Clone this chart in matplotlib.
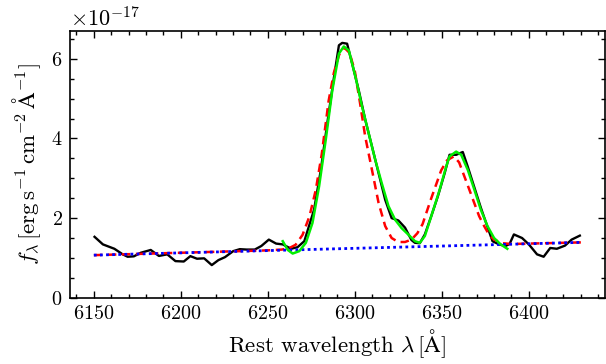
import numpy as np
import matplotlib
matplotlib.use("Agg")
import matplotlib.pyplot as plt
from matplotlib.ticker import MultipleLocator

plt.rcParams['font.family'] = 'serif'
plt.rcParams['font.serif'] = ['cmr10', 'DejaVu Serif']
plt.rcParams['mathtext.fontset'] = 'cm'
plt.rcParams['axes.formatter.use_mathtext'] = True
plt.rcParams['axes.unicode_minus'] = False

SCALE = 1e-17

# observed spectrum (black)
obs_wave = [6150.4, 6155.2, 6161.8, 6166.6, 6169.4, 6173.0, 6177.0, 6182.7, 6187.4, 6192.2,
            6196.9, 6201.7, 6205.5, 6209.3, 6213.4, 6217.8, 6221.6, 6225.4, 6230.1, 6233.9,
            6237.8, 6242.5, 6246.3, 6250.6, 6254.8, 6258.6, 6263.4, 6267.1, 6271.0, 6276.6,
            6280.5, 6284.2, 6288.1, 6290.9, 6292.8, 6295.6, 6298.5, 6302.3, 6306.1, 6309.9,
            6313.7, 6317.5, 6321.2, 6325.1, 6328.9, 6332.6, 6334.6, 6337.4, 6340.3, 6344.0,
            6347.8, 6351.7, 6354.5, 6358.3, 6362.1, 6364.9, 6368.7, 6372.5, 6376.3, 6379.2,
            6383.0, 6386.7, 6389.0, 6391.5, 6396.2, 6400.1, 6404.8, 6408.6, 6412.4, 6416.2,
            6420.9, 6424.7, 6429.4]
obs_flux = [1.53, 1.34, 1.23, 1.09, 1.03, 1.04, 1.13, 1.20, 1.05, 1.09,
            0.92, 0.91, 1.045, 0.98, 0.99, 0.82, 0.945, 1.02, 1.17, 1.22,
            1.21, 1.21, 1.30, 1.46, 1.36, 1.34, 1.23, 1.27, 1.42, 2.21,
            3.21, 4.38, 5.55, 6.34, 6.40, 6.38, 5.88, 5.21, 4.46, 3.80,
            3.13, 2.46, 2.00, 1.94, 1.76, 1.45, 1.38, 1.37, 1.59, 2.05,
            2.55, 3.13, 3.59, 3.59, 3.66, 3.30, 2.78, 2.26, 1.78, 1.42,
            1.34, 1.30, 1.35, 1.59, 1.50, 1.34, 1.09, 1.03, 1.25, 1.23,
            1.31, 1.46, 1.56]

# model (red dashed)
model_wave = [6150, 6200, 6250, 6258, 6262, 6266, 6270, 6274, 6277.6, 6281,
              6285, 6288, 6291, 6294, 6297, 6300, 6303, 6306, 6309.9, 6313.7,
              6317.5, 6321.2, 6325, 6328.9, 6332.6, 6336, 6339, 6344, 6349.7, 6353,
              6357, 6360, 6363, 6366, 6368.7, 6371.5, 6374.4, 6377, 6380, 6385,
              6390, 6430]
model_flux = [1.07, 1.13, 1.19, 1.21, 1.24, 1.33, 1.58, 2.05, 2.71, 3.6,
              4.95, 5.65, 6.1, 6.28, 6.15, 5.7, 4.9, 4.05, 3.21, 2.38,
              1.8, 1.5, 1.4, 1.4, 1.46, 1.62, 1.85, 2.5, 3.2, 3.45,
              3.55, 3.4, 3.05, 2.7, 2.38, 2.05, 1.8, 1.6, 1.46, 1.37,
              1.35, 1.39]

# continuum (blue dotted)
cont_wave = [6150, 6430]
cont_flux = [1.07, 1.39]

# fit (green)
fit_wave = [6258.6, 6261.5, 6264.3, 6268.1, 6271.9, 6275.7, 6279.5, 6283.3, 6287.1, 6290.9,
            6293.7, 6296.6, 6300.4, 6304.2, 6308.0, 6311.8, 6315.5, 6319.4, 6323.2, 6326.9,
            6330.7, 6334.6, 6337.4, 6340.3, 6344.0, 6348.8, 6352.6, 6354.5, 6358.3, 6361.2,
            6365.0, 6368.8, 6372.5, 6376.3, 6380.1, 6383.9, 6387.7]
fit_flux = [1.42, 1.2, 1.11, 1.17, 1.38, 1.88, 2.80, 3.96, 5.21, 6.13,
            6.31, 6.21, 5.55, 4.80, 4.13, 3.46, 2.88, 2.30, 1.96, 1.75,
            1.59, 1.42, 1.38, 1.55, 2.05, 2.71, 3.30, 3.55, 3.67, 3.59,
            3.21, 2.71, 2.21, 1.80, 1.50, 1.34, 1.23]

fig = plt.figure(figsize=(6.06, 3.64), dpi=100)
ax = fig.add_axes([0.1147, 0.182, 0.884, 0.733])

ax.plot(obs_wave, np.array(obs_flux) * SCALE, color='black', lw=1.7)
ax.plot(model_wave, np.array(model_flux) * SCALE, color='red', lw=1.8, ls=(0, (3.4, 2.2)))
ax.plot(cont_wave, np.array(cont_flux) * SCALE, color='blue', lw=2.0, ls=(0, (1, 1.2)))
ax.plot(fit_wave, np.array(fit_flux) * SCALE, color='#00ee00', lw=1.8)

ax.set_xlim(6136, 6444)
ax.set_ylim(0, 6.7e-17)
ax.xaxis.set_major_locator(MultipleLocator(50))
ax.xaxis.set_minor_locator(MultipleLocator(10))
ax.yaxis.set_major_locator(MultipleLocator(2e-17))
ax.yaxis.set_minor_locator(MultipleLocator(0.5e-17))
ax.tick_params(which='both', direction='in', top=True, right=True, labelsize=14.5)
ax.tick_params(which='major', length=5, width=1.0, pad=5)
ax.tick_params(which='minor', length=2.8, width=1.0)
for s in ax.spines.values():
    s.set_linewidth(1.2)
ax.yaxis.get_offset_text().set_fontsize(16)

ax.set_xlabel(r'Rest wavelength $\lambda\,[\mathrm{\AA}]$', fontsize=16.5, labelpad=3)
ax.set_ylabel(r'$f_\lambda\,[\mathrm{erg\,s^{-1}\,cm^{-2}\,\AA^{-1}}]$', fontsize=16.5, labelpad=6)

fig.savefig('out.png', dpi=100)
